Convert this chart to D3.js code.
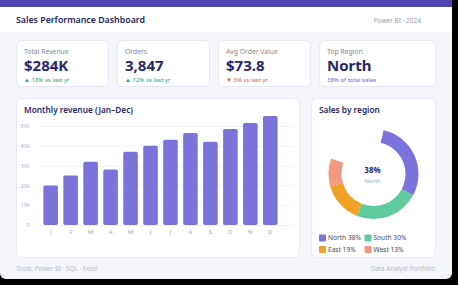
<!DOCTYPE html>
<html>
<head>
<meta charset="utf-8">
<script src="https://d3js.org/d3.v7.min.js"></script>
<style>
  html, body { margin: 0; padding: 0; background: #000; }
  svg { display: block; font-family: "Noto Sans", "Open Sans", sans-serif; }
</style>
</head>
<body>
<div id="chart"></div>
<script>
// KPI cards
var kpiLabels = ["Total Revenue", "Orders", "Avg Order Value", "Top Region"];
var kpiValues = ["$284K", "3,847", "$73.8", "North"];
var kpiNotes = ["18% vs last yr", "12% vs last yr", "3% vs last yr", "38% of total sales"];
var kpiTrend = ["up", "up", "down", "none"];

// Monthly revenue (thousands)
var months = ["Jan", "Feb", "Mar", "Apr", "May", "Jun", "Jul", "Aug", "Sep", "Oct", "Nov", "Dec"];
var monthLetters = ["J", "F", "M", "A", "M", "J", "J", "A", "S", "O", "N", "D"];
var revenue = [20, 25, 32, 28, 37, 40, 43, 46.5, 42, 48.5, 51.5, 55];
var yTicks = [0, 10, 20, 30, 40, 50];

// Sales by region
var regions = ["North", "South", "East", "West"];
var regionShare = [38, 30, 19, 13];
var regionColors = ["#7b72dc", "#5ecb9f", "#f0a126", "#f29a80"];

var W = 458, H = 285;
var svg = d3.select("#chart").append("svg")
  .attr("width", W)
  .attr("height", H);

// page frame
svg.append("rect").attr("width", W).attr("height", H).attr("fill", "#000");
svg.append("rect").attr("x", 0).attr("y", 0).attr("width", 452).attr("height", 279)
  .attr("rx", 6).attr("fill", "#f5f6fc");
svg.append("rect").attr("x", 0).attr("y", 0).attr("width", 452).attr("height", 7).attr("fill", "#5046b6");
svg.append("rect").attr("x", 0).attr("y", 7).attr("width", 452).attr("height", 26).attr("fill", "#fff");
svg.append("line").attr("x1", 0).attr("x2", 452).attr("y1", 33).attr("y2", 33)
  .attr("stroke", "#eceef8").attr("stroke-width", 0.8);

svg.append("text").attr("x", 16).attr("y", 22.5)
  .attr("font-size", 8.8).attr("font-weight", 600).attr("fill", "#27265c")
  .text("Sales Performance Dashboard");
svg.append("text").attr("x", 421).attr("y", 22.5).attr("text-anchor", "end")
  .attr("font-size", 6.5).attr("fill", "#9a9aa8")
  .text("Power BI \u00b7 2024");

// card helper
function card(x, y, w, h) {
  svg.append("rect").attr("x", x + 0.5).attr("y", y + 0.5).attr("width", w).attr("height", h)
    .attr("rx", 5).attr("fill", "#fff").attr("stroke", "#e5e7f6").attr("stroke-width", 1);
}

// KPI row
var kpiX = [16, 117, 218, 319];
var kpiW = [92, 92, 92, 116];
var noteColor = { up: "#2a9f72", down: "#e2603c", none: "#6a5fd4" };

kpiLabels.forEach(function(label, i) {
  var x = kpiX[i];
  card(x, 40, kpiW[i], 46);
  svg.append("text").attr("x", x + 8).attr("y", 54)
    .attr("font-size", 6.8).attr("fill", "#858595").text(label);
  svg.append("text").attr("x", x + 8).attr("y", 70.5)
    .attr("font-size", 15).attr("font-weight", 700).attr("fill", "#29266e").text(kpiValues[i]);
  var arrow = kpiTrend[i] == "up" ? "\u25b2 " : (kpiTrend[i] == "down" ? "\u25bc " : "");
  svg.append("text").attr("x", x + 8).attr("y", 82)
    .attr("font-size", 6).attr("fill", noteColor[kpiTrend[i]]).text(arrow + kpiNotes[i]);
});

// Monthly revenue panel
card(16, 98, 283, 159);
svg.append("text").attr("x", 24).attr("y", 113)
  .attr("font-size", 8.3).attr("font-weight", 600).attr("fill", "#2b2864")
  .text("Monthly revenue (Jan\u2013Dec)");

var x = d3.scaleBand().domain(months).range([40, 281]).paddingInner(0.27).paddingOuter(0.17);
var y = d3.scaleLinear().domain([0, 50]).range([225, 126]);

var yAxis = svg.append("g")
  .attr("transform", "translate(40,0)")
  .call(d3.axisLeft(y).tickValues(yTicks).tickSize(-253).tickPadding(10)
    .tickFormat(function(d) { return d == 0 ? "0" : d + "k"; }));
yAxis.select(".domain").remove();
yAxis.selectAll(".tick line").attr("stroke", "#eef0f7").attr("stroke-width", 0.8);
yAxis.selectAll(".tick text").attr("fill", "#b4b4c0").attr("font-size", 5.6)
  .attr("font-family", "Noto Sans, sans-serif");

svg.append("g").selectAll("rect")
  .data(revenue)
  .enter().append("rect")
  .attr("x", function(d, i) { return x(months[i]); })
  .attr("y", function(d) { return y(d); })
  .attr("width", x.bandwidth())
  .attr("height", function(d) { return y(0) - y(d); })
  .attr("rx", 1.8)
  .attr("fill", "#7b72dc");

var xAxis = svg.append("g")
  .attr("transform", "translate(0,225)")
  .call(d3.axisBottom(x).tickSize(0).tickPadding(5)
    .tickFormat(function(d, i) { return monthLetters[i]; }));
xAxis.select(".domain").remove();
xAxis.selectAll(".tick text").attr("fill", "#a2a2b0").attr("font-size", 5.8)
  .attr("font-family", "Noto Sans, sans-serif");

// Sales by region panel
card(311, 98, 124, 159);
svg.append("text").attr("x", 319).attr("y", 113)
  .attr("font-size", 8.3).attr("font-weight", 600).attr("fill", "#2b2864")
  .text("Sales by region");

var deg = Math.PI / 180;
var pie = d3.pie().sort(null).startAngle(13 * deg).endAngle(290 * deg);
var arc = d3.arc().innerRadius(32).outerRadius(45);
var cx = 373.5, cy = 174;

svg.append("g").attr("transform", "translate(" + cx + "," + cy + ")")
  .selectAll("path")
  .data(pie(regionShare))
  .enter().append("path")
  .attr("d", arc)
  .attr("fill", function(d, i) { return regionColors[i]; });

svg.append("text").attr("x", cx - 1).attr("y", cy - 1).attr("text-anchor", "middle")
  .attr("font-size", 8).attr("font-weight", 700).attr("fill", "#2b2864")
  .text(regionShare[0] + "%");
svg.append("text").attr("x", cx - 1).attr("y", cy + 9).attr("text-anchor", "middle")
  .attr("font-size", 6).attr("fill", "#a8a8b4")
  .text(regions[0]);

// legend
var legX = [319, 364.5];
var legY = [238, 249.5];
var legend = svg.append("g").selectAll("g")
  .data(regions)
  .enter().append("g")
  .attr("transform", function(d, i) { return "translate(" + legX[i % 2] + "," + legY[Math.floor(i / 2)] + ")"; });
legend.append("rect").attr("x", 0).attr("y", -3.5).attr("width", 7).attr("height", 7)
  .attr("rx", 1).attr("fill", function(d, i) { return regionColors[i]; });
legend.append("text").attr("x", 9).attr("y", 2.4)
  .attr("font-size", 6.6).attr("fill", "#4a4a5a")
  .text(function(d, i) { return d + " " + regionShare[i] + "%"; });

// footer
svg.append("text").attr("x", 16).attr("y", 270.5)
  .attr("font-size", 6.3).attr("fill", "#b8b8c4")
  .text("Tools: Power BI \u00b7 SQL \u00b7 Excel");
svg.append("text").attr("x", 435).attr("y", 270.5).attr("text-anchor", "end")
  .attr("font-size", 6.3).attr("fill", "#b8b8c4")
  .text("Data Analyst Portfolio");
</script>
</body>
</html>
